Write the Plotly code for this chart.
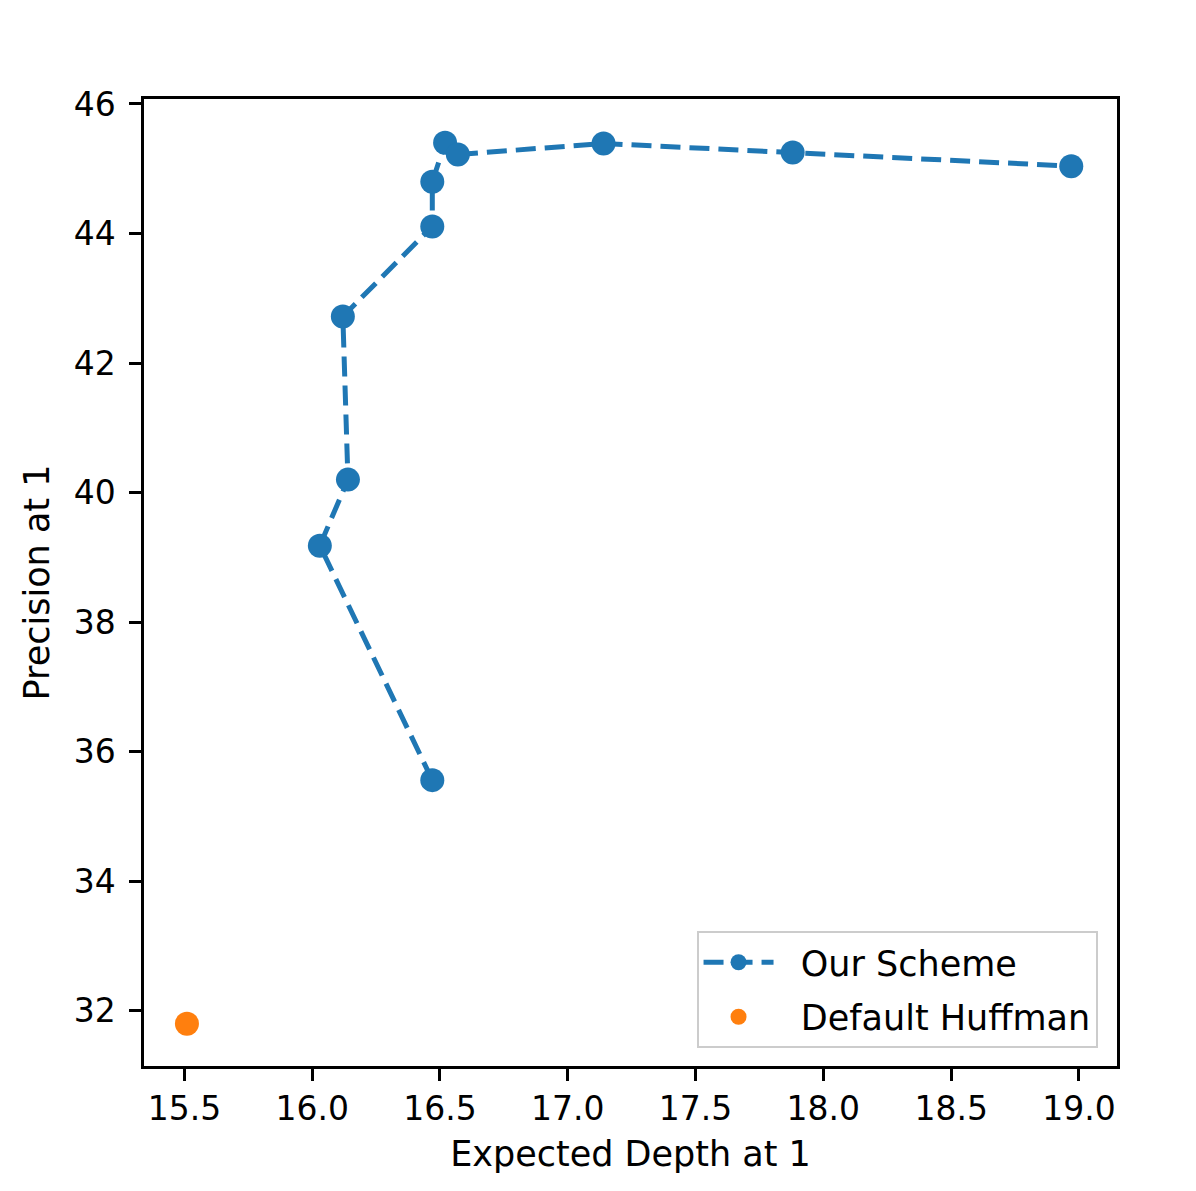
import plotly.graph_objects as go

# expected depth vs precision for our scheme
scheme_depth = [16.47, 16.03, 16.14, 16.12, 16.47, 16.47, 16.52, 16.57, 17.14, 17.88, 18.97]
scheme_prec = [35.56, 39.18, 40.20, 42.72, 44.11, 44.80, 45.40, 45.22, 45.39, 45.25, 45.04]

huffman_depth = [15.51]
huffman_prec = [31.80]

x_ticks = [15.5, 16.0, 16.5, 17.0, 17.5, 18.0, 18.5, 19.0]
y_ticks = [32, 34, 36, 38, 40, 42, 44, 46]

blue = '#1f77b4'
orange = '#ff7f0e'
font = 'DejaVu Sans'
pad = '\u00a0\u00a0'

fig = go.Figure()
fig.add_trace(go.Scatter(x=scheme_depth, y=scheme_prec,
                         mode='lines+markers',
                         name=pad + 'Our Scheme',
                         legendgroup='a',
                         line=dict(color=blue, width=5, dash='20px,9px'),
                         marker=dict(color=blue, size=24)))
fig.add_trace(go.Scatter(x=huffman_depth, y=huffman_prec,
                         mode='markers',
                         name=pad + 'Default Huffman',
                         legendgroup='b',
                         marker=dict(color=orange, size=24)))

axis_style = dict(showline=True, linecolor='black', linewidth=2.5, mirror=True,
                  ticks='outside', ticklen=12, tickwidth=2.5, tickcolor='black',
                  showgrid=False, zeroline=False,
                  tickfont=dict(family=font, size=33, color='black'))

fig.update_xaxes(range=[15.342, 19.149], tickvals=x_ticks,
                 ticktext=[f'{v:.1f}' for v in x_ticks],
                 title=dict(text='Expected Depth at 1', standoff=15,
                            font=dict(family=font, size=35, color='black')),
                 **axis_style)
fig.update_yaxes(range=[31.146, 46.077], tickvals=y_ticks,
                 ticklabelstandoff=7,
                 title=dict(text='Precision at 1', standoff=14,
                            font=dict(family=font, size=35, color='black')),
                 **axis_style)

# page body adds an 8px offset, so the figure is a bit smaller than the window
fig.update_layout(width=1188, height=1183,
                  margin=dict(l=136, r=79, t=91, b=125),
                  plot_bgcolor='white', paper_bgcolor='white',
                  font=dict(family=font, size=35, color='black'),
                  showlegend=True,
                  legend=dict(x=0.980, y=0.0186, xanchor='right', yanchor='bottom',
                              bgcolor='white', bordercolor='#cccccc', borderwidth=2,
                              traceorder='grouped', tracegroupgap=6, itemwidth=70,
                              font=dict(family=font, size=35, color='black')))

fig.write_html('out.html')
